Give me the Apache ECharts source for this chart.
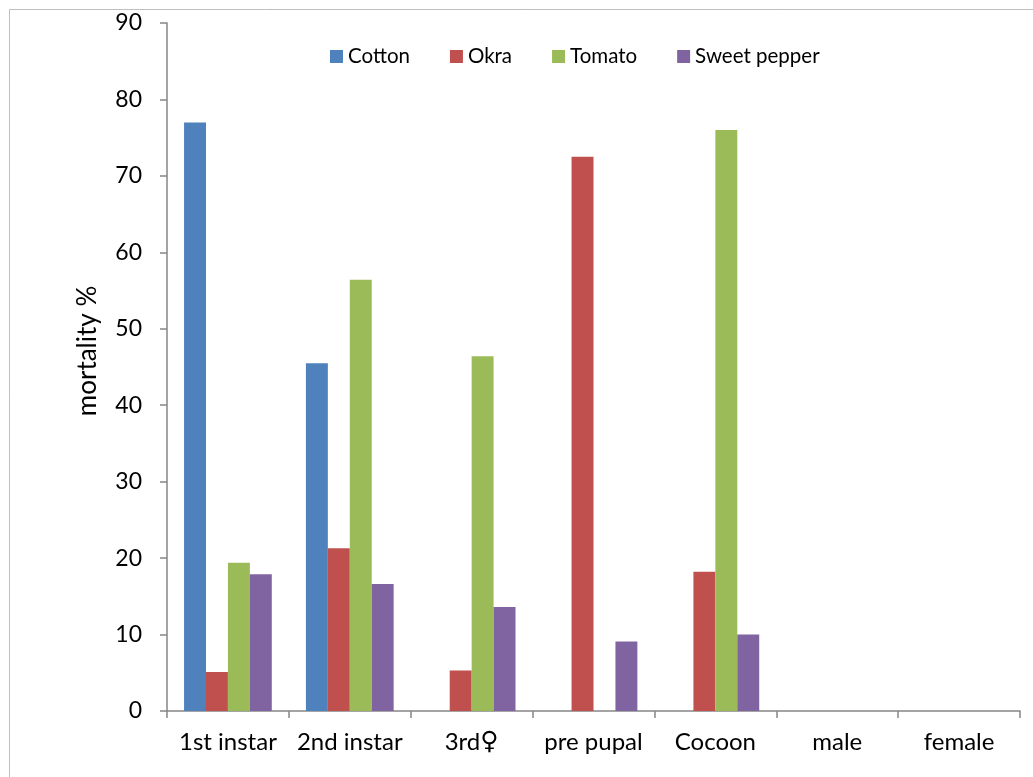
<!DOCTYPE html>
<html>
<head>
<meta charset="utf-8">
<script src="https://cdn.jsdelivr.net/npm/echarts@6/dist/echarts.min.js"></script>
<style>
html,body{margin:0;padding:0;background:#fff;}
#c{width:1033px;height:777px;}
</style>
</head>
<body>
<div id="c"></div>
<script>
var categories = ['1st instar', '2nd instar', '3rd\u2640', 'pre pupal', 'Cocoon', 'male', 'female'];
var cotton = [77, 45.5, null, null, null, null, null];
var okra = [5.1, 21.3, 5.3, 72.5, 18.2, null, null];
var tomato = [19.4, 56.4, 46.4, null, 76.0, null, null];
var sweetPepper = [17.9, 16.6, 13.6, 9.1, 10.0, null, null];
var yTicks = [0, 10, 20, 30, 40, 50, 60, 70, 80, 90];

var FONT = 'Lato, "Open Sans", sans-serif';
var chart = echarts.init(document.getElementById('c'));
function bar(name, data, color) {
  return {
    name: name, type: 'bar', data: data,
    barGap: '0%', barCategoryGap: '28%',
    itemStyle: { color: color },
    emphasis: { disabled: true }
  };
}
chart.setOption({
  animation: false,
  graphic: [{
    type: 'rect', left: 7, top: 7,
    shape: { width: 1100, height: 900 },
    style: { fill: 'none', stroke: '#bfbfbf', lineWidth: 1 },
    silent: true
  }],
  legend: {
    left: 325, top: 41,
    itemWidth: 13, itemHeight: 13, itemGap: 40,
    icon: 'rect',
    textStyle: { fontFamily: FONT, fontSize: 20.5, color: '#000' },
    data: ['Cotton', 'Okra', 'Tomato', 'Sweet pepper']
  },
  grid: { left: 167, right: 13, top: 23, bottom: 66, containLabel: false },
  xAxis: {
    type: 'category', data: categories,
    axisLine: { lineStyle: { color: '#868686', width: 1.5 } },
    axisTick: { show: true, interval: 0, length: 7, lineStyle: { color: '#868686', width: 1.5 } },
    axisLabel: {
      interval: 0, fontFamily: FONT, fontSize: 24, color: '#000', margin: 19,
      formatter: function (v) {
        return v.indexOf('\u2640') >= 0 ? v.replace('\u2640', '{f|\u2640}') : v;
      },
      rich: { f: { fontFamily: '"DejaVu Sans"', fontSize: 25, color: '#000' } }
    }
  },
  yAxis: {
    type: 'value', min: yTicks[0], max: yTicks[yTicks.length - 1], interval: 10,
    name: 'mortality %', nameLocation: 'middle', nameGap: 66, nameRotate: 90,
    nameTextStyle: { fontFamily: FONT, fontSize: 26, color: '#000', padding: [0, 0, 0, 32] },
    splitLine: { show: false },
    axisLine: { show: true, lineStyle: { color: '#868686', width: 1.5 } },
    axisTick: { show: true, length: 7, lineStyle: { color: '#868686', width: 1.5 } },
    axisLabel: { fontFamily: FONT, fontSize: 23, color: '#000', margin: 25 }
  },
  series: [
    bar('Cotton', cotton, '#4F81BD'),
    bar('Okra', okra, '#C0504D'),
    bar('Tomato', tomato, '#9BBB59'),
    bar('Sweet pepper', sweetPepper, '#8064A2')
  ]
});
</script>
</body>
</html>
